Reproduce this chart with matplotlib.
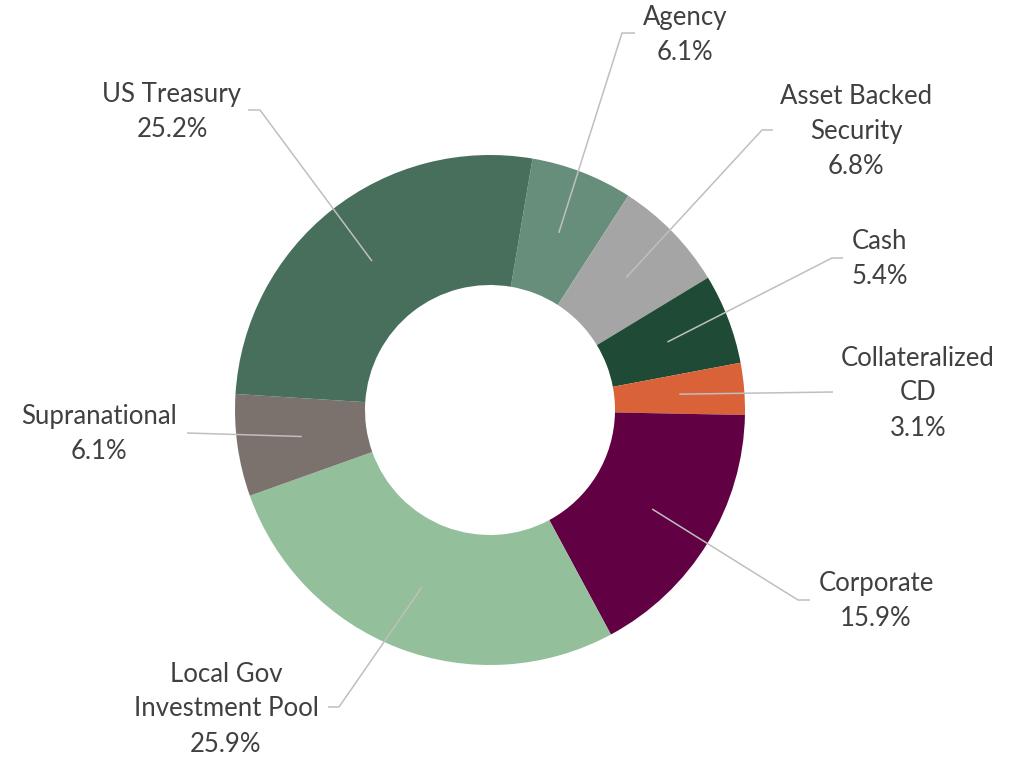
import numpy as np
import matplotlib
matplotlib.use("Agg")
import matplotlib.pyplot as plt

categories = ["Agency", "Asset Backed\nSecurity", "Cash", "Collateralized\nCD",
              "Corporate", "Local Gov\nInvestment Pool", "Supranational", "US Treasury"]
values = [6.1, 6.8, 5.4, 3.1, 15.9, 25.9, 6.1, 25.2]
colors = ["#678e7b", "#a5a5a5", "#1f4a35", "#d96238", "#620044", "#94bf9b", "#7b716d", "#476f5b"]

W, H = 1019, 759
fig = plt.figure(figsize=(W / 100, H / 100), dpi=100)
ax = fig.add_axes([0, 0, 1, 1])
ax.set_xlim(0, W)
ax.set_ylim(0, H)
ax.set_aspect("equal")
ax.axis("off")

cx, cy = 490, H - 410
R_out, R_in = 255, 125
start = 80.4

wedges, _ = ax.pie(values, colors=colors, startangle=start, counterclock=False,
                   radius=R_out, center=(cx, cy),
                   wedgeprops=dict(width=R_out - R_in, linewidth=0), frame=True)
ax.set_xlim(0, W)
ax.set_ylim(0, H)
ax.axis("off")

# label layout in pixel coords (y from top): text center, bend point, end point
layout = [
    ((685, 35), (622, 33), (635, 33)),
    ((856, 131), (762, 130), (773, 130)),
    ((880, 259), (832, 258), (843, 258)),
    ((918, 393), None, (833, 392)),
    ((876, 601), (798, 600), (810, 600)),
    ((226, 709), (339, 707), (328, 707)),
    ((99, 434), None, (187, 433)),
    ((172, 112), (260, 110), (248, 110)),
]

r_mid = (R_out + R_in) / 2
for w, cat, val, (txt, bend, end) in zip(wedges, categories, values, layout):
    ang = np.deg2rad((w.theta1 + w.theta2) / 2)
    ax_, ay_ = cx + r_mid * np.cos(ang), cy + r_mid * np.sin(ang)
    pts = [(ax_, ay_)]
    if bend is not None:
        pts.append((bend[0], H - bend[1]))
    pts.append((end[0], H - end[1]))
    xs, ys = zip(*pts)
    ax.plot(xs, ys, color="#bfbfbf", lw=1.1, solid_capstyle="butt", zorder=3)
    ax.text(txt[0], H - txt[1], f"{cat}\n{val:.1f}%", ha="center", va="center",
            fontsize=18.5, color="#404040", family="Lato", linespacing=1.5)

fig.savefig("out.png", dpi=100)
